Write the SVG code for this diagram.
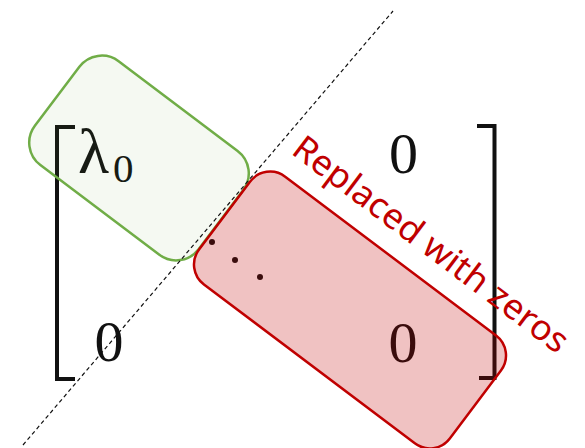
<svg xmlns="http://www.w3.org/2000/svg" width="585" height="448" viewBox="0 0 585 448">
  <style>
    .br { fill: none; stroke: #111; stroke-width: 4; }
    .m { font-family: "Liberation Serif", "DejaVu Serif", serif; fill: #111; }
    .dot { fill: #111; }
    .lbl { font-family: "Noto Sans", "Open Sans", sans-serif; fill: #c00000; font-size: 35px; }
  </style>
  <rect width="585" height="448" fill="#ffffff"/>
  <g id="matrix">
    <path class="br" d="M75,127 H57 V379 H75"/>
    <path class="br" d="M477,126 H494.5 V378 H479"/>
    <text class="m" x="78" y="173" font-size="64">λ</text>
    <text class="m" x="113" y="182" font-size="41">0</text>
    <text class="m" x="403.5" y="173" font-size="58" text-anchor="middle">0</text>
    <text class="m" x="109" y="361" font-size="58" text-anchor="middle">0</text>
    <text class="m" x="403" y="362" font-size="58" text-anchor="middle">0</text>
    <circle class="dot" cx="212" cy="242" r="3"/>
    <circle class="dot" cx="235" cy="260" r="3"/>
    <circle class="dot" cx="260" cy="277" r="3"/>
  </g>
  <g id="green-box">
    <rect x="-102.5" y="-65" width="205" height="130" rx="28" ry="28" transform="translate(139,158) rotate(37)" fill="#70ad47" fill-opacity="0.07" stroke="#70ad47" stroke-width="2.5"/>
  </g>
  <g id="red-box">
    <rect x="-157" y="-67.5" width="314" height="135" rx="25" ry="25" transform="translate(350,310) rotate(37)" fill="#c00000" fill-opacity="0.24" stroke="#c00000" stroke-width="2.5"/>
  </g>
  <g id="connectors">
    <line x1="23" y1="445" x2="393" y2="11" stroke="#111" stroke-width="1.2" stroke-dasharray="4 3"/>
  </g>
  <g id="label">
    <text class="lbl" transform="translate(290,153) rotate(37)" x="0" y="0" textLength="335" lengthAdjust="spacingAndGlyphs">Replaced with zeros</text>
  </g>
</svg>
